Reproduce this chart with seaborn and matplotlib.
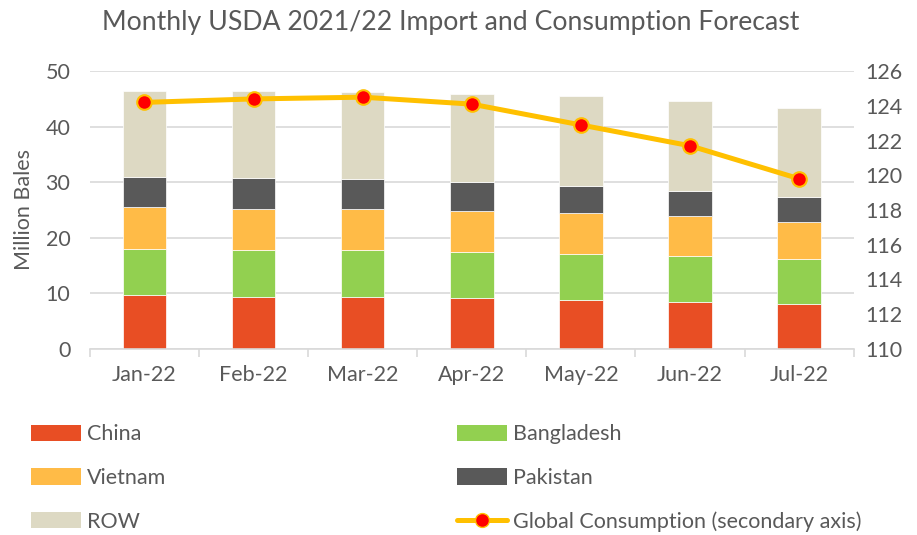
import numpy as np
import matplotlib
matplotlib.use("Agg")
import matplotlib.pyplot as plt
from matplotlib.ticker import FixedLocator
from matplotlib.lines import Line2D
from matplotlib.patches import Patch
import seaborn as sns

months = ["Jan-22", "Feb-22", "Mar-22", "Apr-22", "May-22", "Jun-22", "Jul-22"]

# import forecasts by origin, million bales
china = [9.7, 9.4, 9.4, 9.1, 8.8, 8.4, 8.0]
bangladesh = [8.3, 8.4, 8.4, 8.3, 8.3, 8.35, 8.1]
vietnam = [7.5, 7.4, 7.4, 7.5, 7.35, 7.2, 6.8]
pakistan = [5.5, 5.5, 5.3, 5.1, 4.8, 4.5, 4.5]
row = [15.5, 15.7, 15.7, 15.8, 16.25, 16.1, 15.9]

# global consumption, secondary axis
consumption = [124.2, 124.4, 124.5, 124.1, 122.9, 121.7, 119.8]

sns.set_theme(style="white")
plt.rcParams["font.family"] = ["Lato", "DejaVu Sans"]
grey = "#595959"

fig = plt.figure(figsize=(9.17, 5.35), dpi=100)
ax = fig.add_axes([0.098, 0.348, 0.833, 0.519])

series = [("China", china, "#E84E24"),
          ("Bangladesh", bangladesh, "#92D050"),
          ("Vietnam", vietnam, "#FFBB47"),
          ("Pakistan", pakistan, "#595959"),
          ("ROW", row, "#DDD9C3")]

bottom = np.zeros(len(months))
handles = {}
for name, vals, col in series:
    sns.barplot(x=months, y=vals, ax=ax, color=col, width=0.4,
                bottom=bottom.copy(), saturation=1, edgecolor="white",
                linewidth=0.5, zorder=2)
    bottom += np.array(vals)
    handles[name] = Patch(facecolor=col, edgecolor="none")

ax.set_ylim(0, 50)
ax.set_xlim(-0.5, len(months) - 0.5)
ax.set_yticks(range(0, 51, 10))
ax.grid(axis="y", color="#d9d9d9", linewidth=1.2, zorder=0)
ax.set_axisbelow(True)
for s in ["top", "right", "left"]:
    ax.spines[s].set_visible(False)
ax.spines["bottom"].set_color("#d9d9d9")
ax.spines["bottom"].set_linewidth(1.2)
ax.xaxis.set_minor_locator(FixedLocator(np.arange(-0.5, len(months), 1)))
ax.tick_params(axis="x", which="minor", length=6, color="#d9d9d9", width=1.2, bottom=True)
ax.tick_params(axis="x", which="major", length=0, pad=12, labelsize=15.5, labelcolor=grey)
ax.tick_params(axis="y", length=0, pad=14, labelsize=15.5, labelcolor=grey)
ax.set_xlabel("")
ax.set_ylabel("Million Bales", fontsize=15.5, color=grey, labelpad=8)

ax2 = ax.twinx()
sns.lineplot(x=np.arange(len(months)), y=consumption, ax=ax2, color="#FFC000",
             linewidth=3.6, marker="o", markersize=10.5, markerfacecolor="#FF0000",
             markeredgecolor="#FFC000", markeredgewidth=1.5, zorder=5)
ax2.set_ylim(110, 126)
ax2.set_yticks(range(110, 127, 2))
for s in ax2.spines.values():
    s.set_visible(False)
ax2.tick_params(axis="y", length=0, pad=8, labelsize=15.5, labelcolor=grey)
ax2.grid(False)

handles["Global Consumption (secondary axis)"] = Line2D(
    [], [], color="#FFC000", linewidth=3.6, marker="o", markersize=10,
    markerfacecolor="#FF0000", markeredgecolor="#FFC000")

order = ["China", "Vietnam", "ROW", "Bangladesh", "Pakistan",
         "Global Consumption (secondary axis)"]
fig.legend([handles[k] for k in order], order, loc="upper left",
           bbox_to_anchor=(0.013, 0.243), ncol=2, frameon=False,
           fontsize=15.5, labelcolor=grey, handlelength=2.3, handleheight=0.8,
           handletextpad=0.3, labelspacing=1.1, columnspacing=13.5)

fig.suptitle("Monthly USDA 2021/22 Import and Consumption Forecast",
             x=0.491, y=0.982, fontsize=19.2, color=grey)

fig.savefig("out.png", dpi=100)
